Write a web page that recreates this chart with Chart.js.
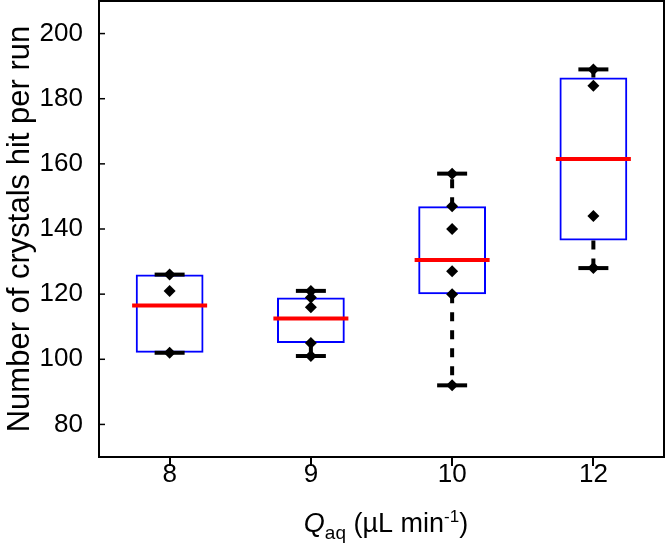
<!DOCTYPE html>
<html>
<head>
<meta charset="utf-8">
<script src="https://cdn.jsdelivr.net/npm/chart.js@4.4.1/dist/chart.umd.min.js"></script>
<style>
  html, body { margin: 0; padding: 0; background: #fff; }
  #wrap { width: 666px; height: 549px; }
</style>
</head>
<body>
<div id="wrap"><canvas id="boxChart"></canvas></div>
<script>
// --- data ---
const categories = ['8', '9', '10', '12'];
const q1 = [102, 105, 120, 136.5];
const q3 = [126, 119, 147, 186.5];
const medians = [116.5, 112.5, 130.5, 161.5];
const whiskerLow = [102, 101, 92, 128];
const whiskerHigh = [126, 121, 157, 189];
const runs = [
  [126, 121, 102],
  [121, 119, 116, 105, 101],
  [157, 147, 140, 127, 120, 92],
  [189, 184, 144, 128]
];
const yTicks = [80, 100, 120, 140, 160, 180, 200];

const FONT = "'Liberation Sans', Arial, Helvetica, sans-serif";

// datasets
const datasets = [];

datasets.push({
  type: 'line', label: 'runs', order: 0, showLine: false,
  data: runs.flatMap((vals, i) => vals.map(v => ({ x: categories[i], y: v }))),
  pointStyle: 'rectRot', pointRadius: 6, pointBackgroundColor: '#000', pointBorderWidth: 0
});

datasets.push({
  type: 'line', label: 'caps', order: 1, showLine: false,
  data: categories.flatMap((c, i) => [{ x: c, y: whiskerLow[i] }, { x: c, y: whiskerHigh[i] }]),
  pointStyle: 'line', pointRadius: 15, pointBorderWidth: 4, pointBorderColor: '#000'
});

datasets.push({
  type: 'line', label: 'median', order: 2, showLine: false,
  data: categories.map((c, i) => ({ x: c, y: medians[i] })),
  pointStyle: 'line', pointRadius: 37.5, pointBorderWidth: 4, pointBorderColor: '#ff0000'
});

// dashed whiskers, one dataset per segment
categories.forEach((c, i) => {
  [[q3[i], whiskerHigh[i]], [q1[i], whiskerLow[i]]].forEach(([from, to]) => {
    if (from === to) return;
    datasets.push({
      type: 'line', label: 'whisker', order: 3,
      data: [{ x: c, y: from }, { x: c, y: to }],
      borderColor: '#000', borderWidth: 4, borderDash: [9, 9], pointRadius: 0
    });
  });
});

datasets.push({
  type: 'bar', label: 'box', order: 4,
  data: categories.map((c, i) => [q1[i], q3[i]]),
  backgroundColor: 'rgba(0,0,0,0)', borderColor: '#0000ff', borderWidth: 2,
  borderSkipped: false, barPercentage: 0.48, categoryPercentage: 1
});

// frame, inward y ticks and the rich x title
const framePlugin = {
  id: 'frame',
  afterDraw(chart) {
    const { ctx, chartArea: a, scales } = chart;
    ctx.save();
    ctx.strokeStyle = '#000';
    ctx.lineWidth = 2;
    ctx.strokeRect(a.left, a.top, a.right - a.left, a.bottom - a.top);
    ctx.lineWidth = 1.5;
    yTicks.forEach(v => {
      const y = scales.y.getPixelForValue(v);
      ctx.beginPath();
      ctx.moveTo(a.left, y);
      ctx.lineTo(a.left + 6, y);
      ctx.stroke();
    });

    // Q_aq (µL min^-1)
    const parts = [
      { t: 'Q', f: 'italic 27px ' + FONT, dy: 0 },
      { t: 'aq', f: '19px ' + FONT, dy: 7 },
      { t: ' (\u00b5L min', f: '27px ' + FONT, dy: 0 },
      { t: '-1', f: '17px ' + FONT, dy: -10 },
      { t: ')', f: '27px ' + FONT, dy: 0 }
    ];
    let total = 0;
    parts.forEach(p => { ctx.font = p.f; p.w = ctx.measureText(p.t).width; total += p.w; });
    let x = 386 - total / 2;
    const base = 532;
    ctx.fillStyle = '#000';
    ctx.textBaseline = 'alphabetic';
    ctx.textAlign = 'left';
    parts.forEach(p => {
      ctx.font = p.f;
      ctx.fillText(p.t, x, base + p.dy);
      x += p.w;
    });
    ctx.restore();
  }
};

new Chart(document.getElementById('boxChart'), {
  type: 'bar',
  data: { labels: categories, datasets: datasets },
  options: {
    responsive: true,
    maintainAspectRatio: false,
    animation: false,
    events: [],
    layout: { autoPadding: false, padding: { top: 1, right: 2, left: 0, bottom: 0 } },
    plugins: { legend: { display: false }, tooltip: { enabled: false } },
    scales: {
      x: {
        offset: true,
        grid: { offset: false, drawOnChartArea: false, drawTicks: true, tickLength: 9, color: '#000', lineWidth: 2 },
        border: { display: true, color: '#000', width: 2 },
        ticks: { color: '#000', padding: -7, font: { family: FONT, size: 26 } },
        afterFit: s => { s.height = 92; s.paddingLeft = 0; s.paddingRight = 0; }
      },
      y: {
        min: 70, max: 210, bounds: 'data',
        afterBuildTicks: s => { s.ticks = yTicks.map(v => ({ value: v })); },
        grid: { display: false },
        border: { display: true, color: '#000', width: 2 },
        ticks: { color: '#000', padding: 8, font: { family: FONT, size: 26 } },
        title: {
          display: true, text: 'Number of crystals hit per run', color: '#000',
          font: { family: FONT, size: 31 }, padding: { top: 2, bottom: 0 }
        },
        afterFit: s => { s.width = 99; s.paddingTop = 0; s.paddingBottom = 0; }
      }
    }
  },
  plugins: [framePlugin]
});
</script>
</body>
</html>
